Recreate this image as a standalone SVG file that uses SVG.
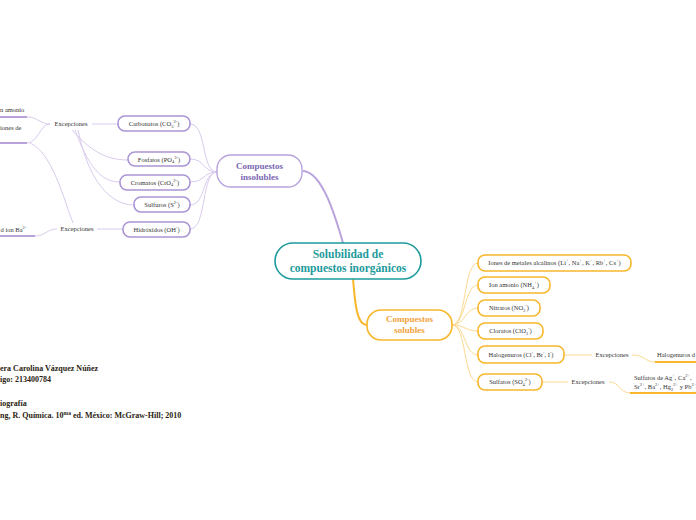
<svg xmlns="http://www.w3.org/2000/svg" width="696" height="520" viewBox="0 0 696 520">
<style>
text{font-family:"Liberation Serif","Times New Roman",serif;}
.lbl{font-size:6.5px;fill:#333;text-anchor:middle;}
.lft{font-size:6.5px;fill:#333;}
.s{font-size:4.5px;}
.pn{fill:#fff;stroke:#ab94d4;stroke-width:1.6;}
.on{fill:#fff;stroke:#f8b62a;stroke-width:1.6;}
.pc{fill:none;stroke:#d9cbec;stroke-width:1;}
.oc{fill:none;stroke:#fcd98f;stroke-width:1;}
.pu{fill:none;stroke:#b8a3dc;stroke-width:2;}
.ou{fill:none;stroke:#f8b62a;stroke-width:2;}
.auth{font-size:8px;font-weight:bold;fill:#2b1d12;}
</style>
<rect width="696" height="520" fill="#fff"/>
<g id="connectors">
<path class="pu" d="M303,171 C322,172 335,215 343,243"/>
<path class="ou" d="M353,279 C355,300 356,325 367,325"/>
<path class="pc" d="M190,124 C207,124 201,172 217,172"/>
<path class="pc" d="M190,159 C205,159 203,172 217,172"/>
<path class="pc" d="M190,182 C205,182 203,172 217,172"/>
<path class="pc" d="M190,205 C206,205 202,172 217,172"/>
<path class="pc" d="M190,229 C207,229 201,172 217,172"/>
<path class="oc" d="M452,325 C467,325 463,263 478,263"/>
<path class="oc" d="M452,325 C466,325 464,285 478,285"/>
<path class="oc" d="M452,325 C465,325 465,308 478,308"/>
<path class="oc" d="M452,325 C465,325 465,331 478,331"/>
<path class="oc" d="M452,325 C466,325 464,355 478,355"/>
<path class="oc" d="M452,325 C467,325 463,382 478,382"/>
<path class="pc" d="M92,124 L118,124"/>
<path class="pc" d="M50,124 C40,124 38,117 27,117"/>
<path class="pu" d="M27,117 L0,117"/>
<path class="pc" d="M50,124 C40,124 38,143 27,143"/>
<path class="pu" d="M27,143 L0,143"/>
<path class="pc" d="M30,143 C52,152 64,200 73,223"/>
<path class="pc" d="M72,130 C90,150 105,160 128,160"/>
<path class="pc" d="M75,130 C88,165 100,182 120,182"/>
<path class="pc" d="M78,130 C88,180 110,205 134,205"/>
<path class="pc" d="M97,229 L123,229"/>
<path class="pc" d="M57,229 C47,229 45,236 35,236"/>
<path class="pu" d="M35,236 L0,236"/>
<path class="oc" d="M564,355 L592,355"/>
<path class="oc" d="M632,355 C645,355 645,362 655,362"/>
<path class="ou" d="M655,362 L696,362"/>
<path class="oc" d="M542,382 L568,382"/>
<path class="oc" d="M609,382 C620,382 620,393 630,393"/>
<path class="ou" d="M630,393 L696,393"/>
</g>
<g id="root">
<rect x="275" y="243" width="146" height="36" rx="18" fill="#fff" stroke="#1d9a9c" stroke-width="1.6"/>
<text x="348" y="258" text-anchor="middle" font-size="11.5" font-weight="bold" fill="#1d9a9c">Solubilidad de</text>
<text x="348" y="271.5" text-anchor="middle" font-size="11.5" font-weight="bold" fill="#1d9a9c">compuestos inorgánicos</text>
</g>
<g id="insolubles">
<rect x="217" y="155" width="85" height="32" rx="14" fill="#fff" stroke="#b8a3dc" stroke-width="1.4"/>
<text x="259.5" y="168.5" text-anchor="middle" font-size="9" font-weight="bold" fill="#7a66b3">Compuestos</text>
<text x="259.5" y="180" text-anchor="middle" font-size="9" font-weight="bold" fill="#7a66b3">insolubles</text>
</g>
<g id="solubles">
<rect x="367" y="310" width="85" height="30" rx="14" fill="#fff" stroke="#f8b62a" stroke-width="1.6"/>
<text x="409.5" y="322" text-anchor="middle" font-size="9" font-weight="bold" fill="#f4a23a">Compuestos</text>
<text x="409.5" y="333" text-anchor="middle" font-size="9" font-weight="bold" fill="#f4a23a">solubles</text>
</g>
<g id="carbonatos">
<rect class="pn" x="118" y="116" width="72" height="15" rx="7"/>
<text class="lbl" x="154" y="126">Carbonatos (CO<tspan class="s" dy="1.5">3</tspan><tspan class="s" dy="-4.5">2-</tspan><tspan dy="3">)</tspan></text>
</g>
<g id="fosfatos">
<rect class="pn" x="128" y="152" width="62" height="14" rx="7"/>
<text class="lbl" x="159" y="161.5">Fosfatos (PO<tspan class="s" dy="1.5">4</tspan><tspan class="s" dy="-4.5">3-</tspan><tspan dy="3">)</tspan></text>
</g>
<g id="cromatos">
<rect class="pn" x="120" y="175" width="70" height="15" rx="7"/>
<text class="lbl" x="155" y="184.5">Cromatos (CrO<tspan class="s" dy="1.5">4</tspan><tspan class="s" dy="-4.5">2-</tspan><tspan dy="3">)</tspan></text>
</g>
<g id="sulfuros">
<rect class="pn" x="134" y="197" width="56" height="15" rx="7"/>
<text class="lbl" x="162" y="207">Sulfuros (S<tspan class="s" dy="-3">2-</tspan><tspan dy="3">)</tspan></text>
</g>
<g id="hidroxidos">
<rect class="pn" x="123" y="222" width="67" height="15" rx="7"/>
<text class="lbl" x="156.5" y="231.5">Hidróxidos (OH<tspan class="s" dy="-3">-</tspan><tspan dy="3">)</tspan></text>
</g>
<g id="excepciones-carbonatos">
<text class="lbl" x="71" y="126">Excepciones</text>
</g>
<g id="carbonatos-exc-1">
<text class="lft" x="0" y="112">n amonio</text>
</g>
<g id="carbonatos-exc-2">
<text class="lft" x="0" y="130">iones de</text>
</g>
<g id="excepciones-hidroxidos">
<text class="lbl" x="77" y="231">Excepciones</text>
</g>
<g id="hidroxidos-exc">
<text class="lft" x="0.5" y="232">d ion Ba<tspan class="s" dy="-3">2+</tspan></text>
</g>
<g id="alcalinos">
<rect class="on" x="478" y="255" width="153" height="16" rx="7"/>
<text class="lbl" x="554.5" y="265">Iones de metales alcalinos (Li<tspan class="s" dy="-3">+</tspan><tspan dy="3">, Na</tspan><tspan class="s" dy="-3">+</tspan><tspan dy="3">, K</tspan><tspan class="s" dy="-3">+</tspan><tspan dy="3">, Rb</tspan><tspan class="s" dy="-3">+</tspan><tspan dy="3">, Cs</tspan><tspan class="s" dy="-3">+</tspan><tspan dy="3">)</tspan></text>
</g>
<g id="amonio">
<rect class="on" x="478" y="277" width="72" height="16" rx="7"/>
<text class="lbl" x="514" y="287">Ion amonio (NH<tspan class="s" dy="1.5">4</tspan><tspan class="s" dy="-4.5">+</tspan><tspan dy="3">)</tspan></text>
</g>
<g id="nitratos">
<rect class="on" x="478" y="300" width="62" height="16" rx="7"/>
<text class="lbl" x="509" y="310">Nitratos (NO<tspan class="s" dy="1.5">3</tspan><tspan class="s" dy="-4.5">-</tspan><tspan dy="3">)</tspan></text>
</g>
<g id="cloratos">
<rect class="on" x="478" y="323" width="65" height="16" rx="7"/>
<text class="lbl" x="510.5" y="333">Cloratos (ClO<tspan class="s" dy="1.5">3</tspan><tspan class="s" dy="-4.5">-</tspan><tspan dy="3">)</tspan></text>
</g>
<g id="halogenuros">
<rect class="on" x="478" y="346" width="86" height="17" rx="7"/>
<text class="lbl" x="521" y="357">Halogenuros (Cl<tspan class="s" dy="-3">-</tspan><tspan dy="3">, Br</tspan><tspan class="s" dy="-3">-</tspan><tspan dy="3">, I</tspan><tspan class="s" dy="-3">-</tspan><tspan dy="3">)</tspan></text>
</g>
<g id="sulfatos">
<rect class="on" x="478" y="374" width="64" height="16" rx="7"/>
<text class="lbl" x="510" y="384">Sulfatos (SO<tspan class="s" dy="1.5">4</tspan><tspan class="s" dy="-4.5">2-</tspan><tspan dy="3">)</tspan></text>
</g>
<g id="excepciones-halogenuros">
<text class="lbl" x="612" y="357">Excepciones</text>
</g>
<g id="halogenuros-exc">
<text class="lft" x="657" y="357" font-size="5.4">Halogenuros d</text>
</g>
<g id="excepciones-sulfatos">
<text class="lbl" x="588" y="384">Excepciones</text>
</g>
<g id="sulfatos-exc">
<text class="lft" x="634" y="380" font-size="5.6">Sulfatos de Ag<tspan class="s" dy="-3">+</tspan><tspan dy="3">, Ca</tspan><tspan class="s" dy="-3">2+</tspan><tspan dy="3">,</tspan></text>
<text class="lft" x="634" y="389" font-size="5.4">Sr<tspan class="s" dy="-3">2+</tspan><tspan dy="3">, Ba</tspan><tspan class="s" dy="-3">2+</tspan><tspan dy="3">, Hg</tspan><tspan class="s" dy="1.5">2</tspan><tspan class="s" dy="-4.5">2+</tspan><tspan dy="3"> y Pb</tspan><tspan class="s" dy="-3">2+</tspan></text>
</g>
<g id="autor">
<text class="auth" x="0" y="371">era Carolina Vázquez Núñez</text>
<text class="auth" x="0" y="382">igo: 213400784</text>
<text class="auth" x="0" y="406">iografía</text>
<text class="auth" x="0" y="418">ng, R. Química. 10<tspan font-size="5.5" dy="-3">ma</tspan><tspan dy="3"> ed. México: McGraw-Hill; 2010</tspan></text>
</g>
</svg>
